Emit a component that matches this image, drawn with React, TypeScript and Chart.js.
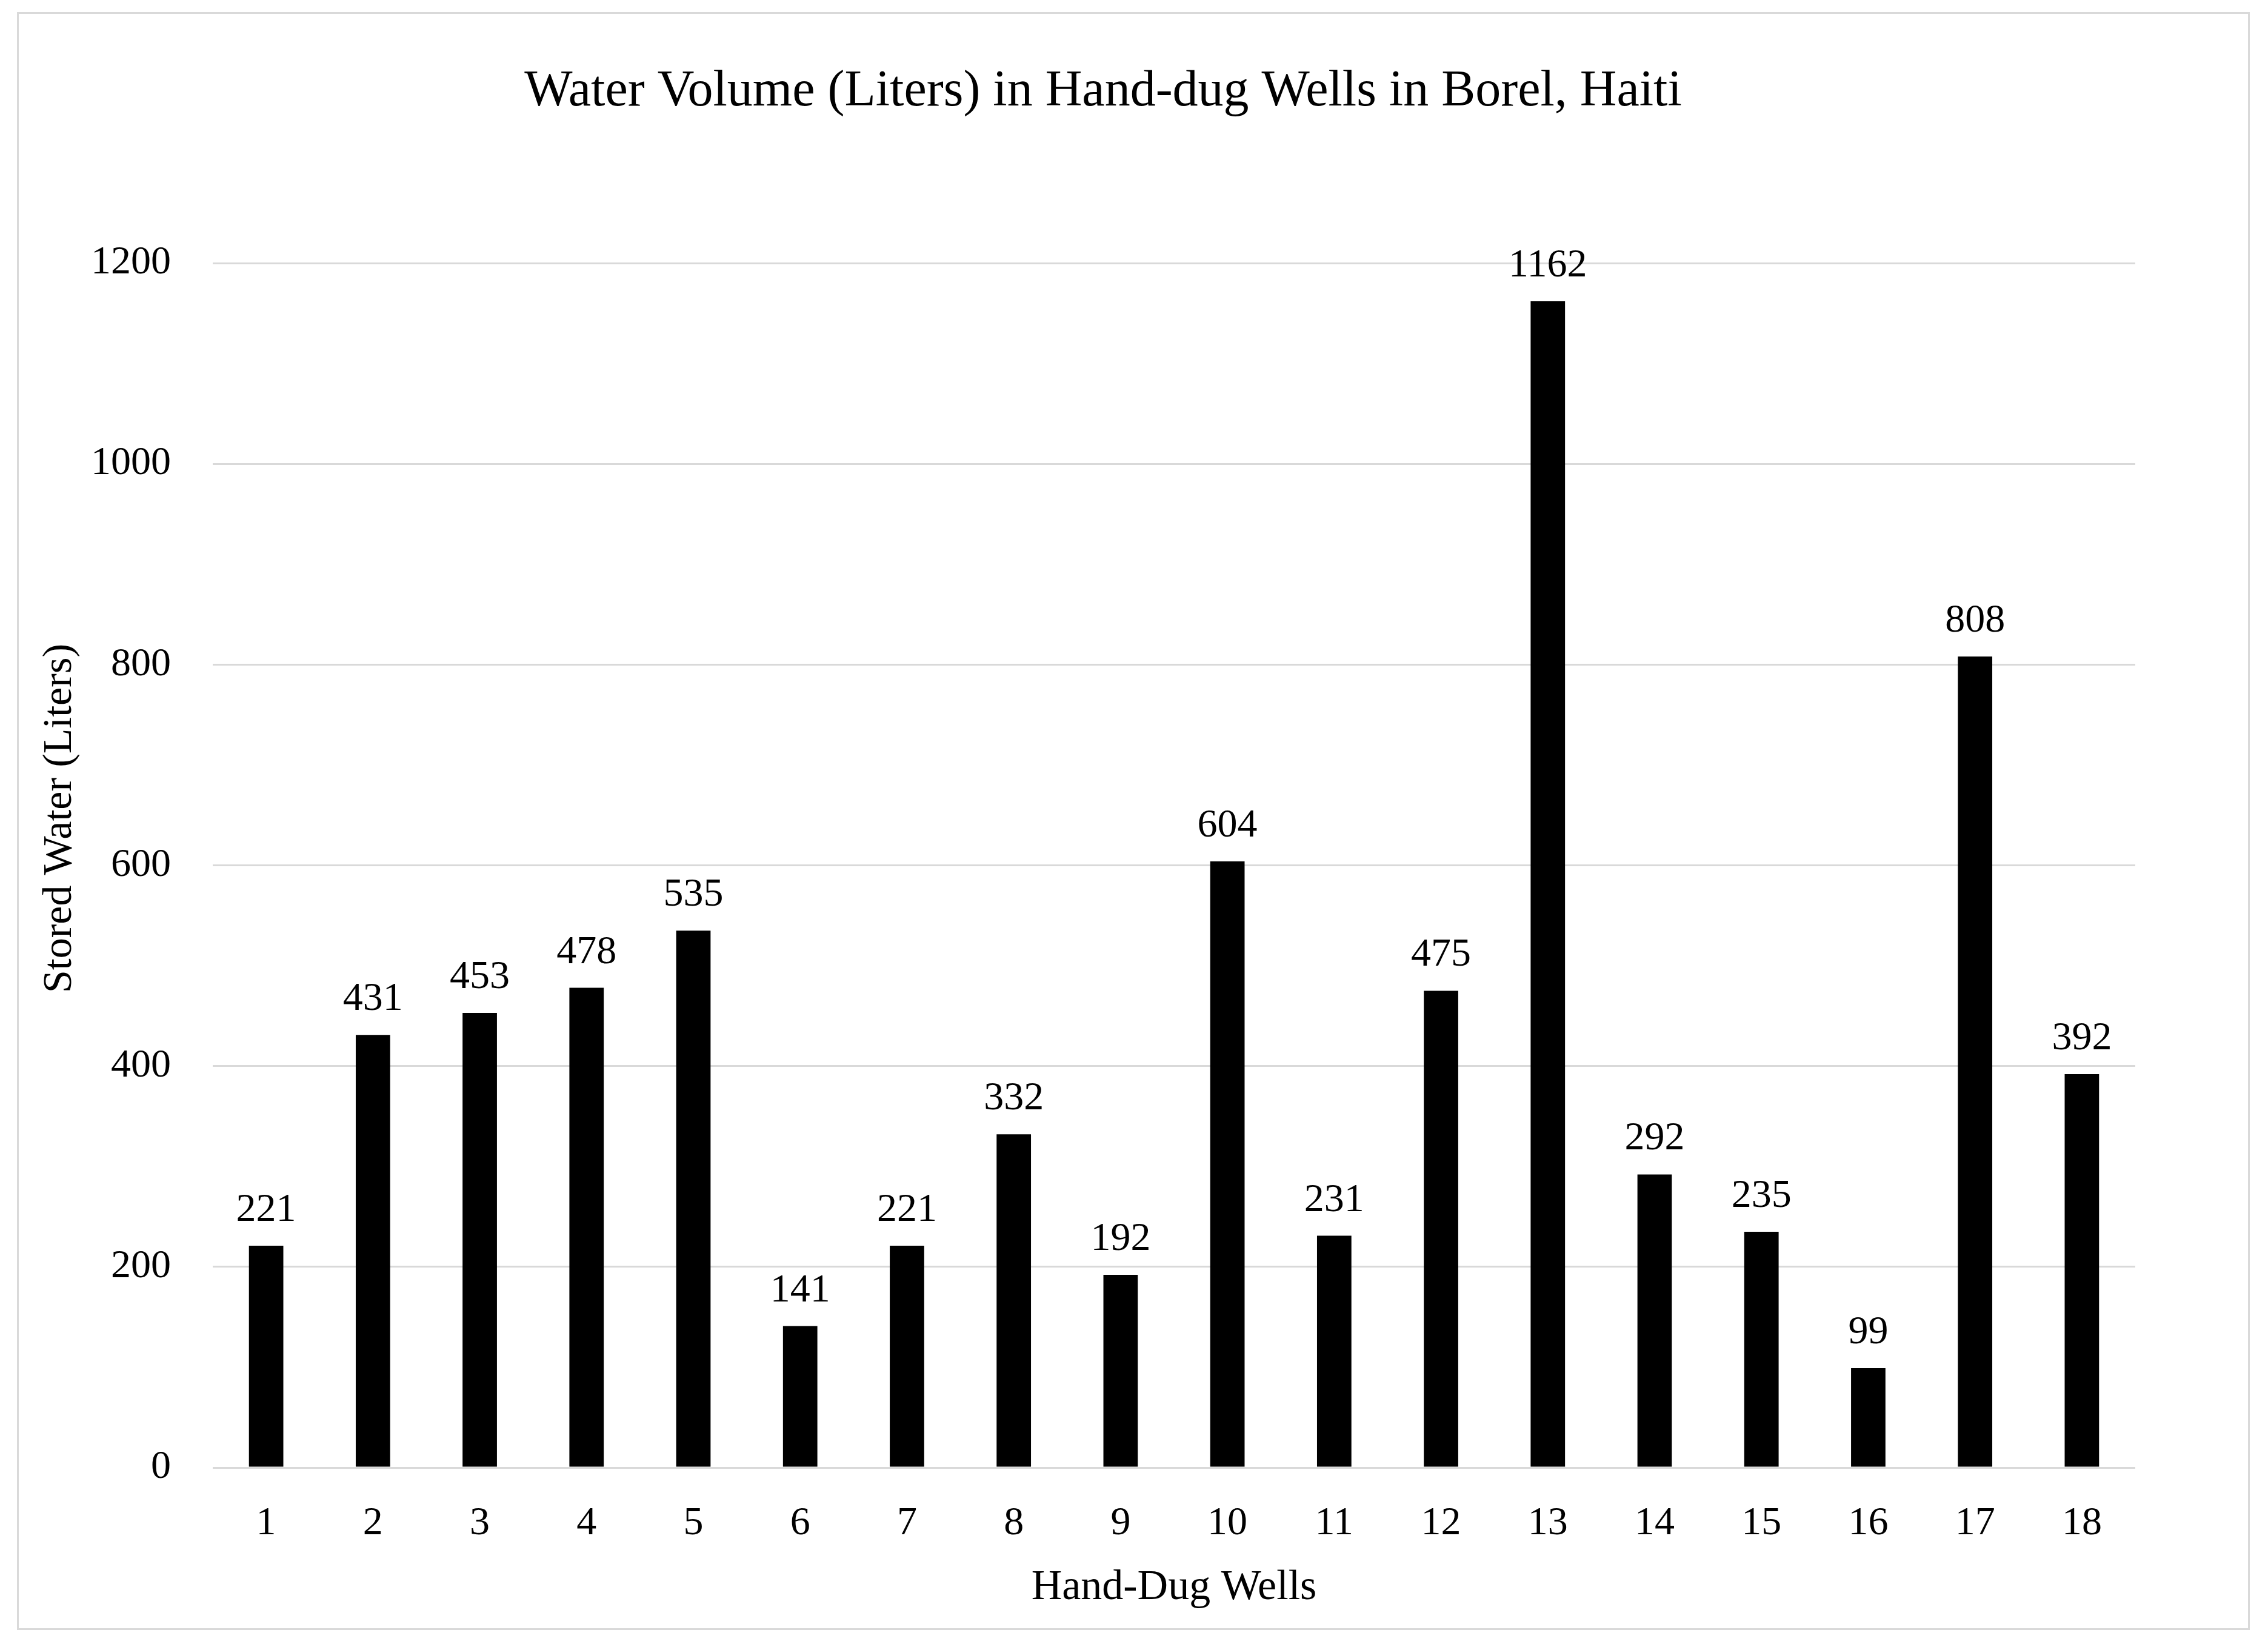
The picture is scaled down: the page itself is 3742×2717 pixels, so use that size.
import React, { useEffect, useRef } from 'react';
import { Chart, registerables } from 'chart.js';

Chart.register(...registerables);

const CHART_TITLE = 'Water Volume (Liters) in Hand-dug Wells in Borel, Haiti';
const X_TITLE = 'Hand-Dug Wells';
const Y_TITLE = 'Stored Water (Liters)';

const wells = ['1', '2', '3', '4', '5', '6', '7', '8', '9', '10', '11', '12', '13', '14', '15', '16', '17', '18'];
const storedWater = [221, 431, 453, 478, 535, 141, 221, 332, 192, 604, 231, 475, 1162, 292, 235, 99, 808, 392];
const yTickValues = [0, 200, 400, 600, 800, 1000, 1200];

const W = 3742;
const H = 2717;
const FONT = '"Liberation Serif", "Times New Roman", serif';

const overlayPlugin = {
  id: 'overlay',
  beforeDraw(chart: any) {
    const ctx = chart.ctx;
    ctx.save();
    ctx.fillStyle = '#ffffff';
    ctx.fillRect(0, 0, chart.width, chart.height);
    ctx.strokeStyle = '#d9d9d9';
    ctx.lineWidth = 3;
    ctx.strokeRect(29.5, 21.5, 3681, 2666);
    ctx.restore();
  },
  afterDatasetsDraw(chart: any) {
    const ctx = chart.ctx;
    const meta = chart.getDatasetMeta(0);
    const data = chart.data.datasets[0].data;
    ctx.save();
    ctx.fillStyle = '#000000';
    ctx.font = `66px ${FONT}`;
    ctx.textAlign = 'center';
    ctx.textBaseline = 'alphabetic';
    meta.data.forEach((bar: any, i: number) => {
      ctx.fillText(String(data[i]), bar.x, bar.y - 41);
    });
    ctx.restore();
  },
  afterDraw(chart: any) {
    const ctx = chart.ctx;
    ctx.save();
    ctx.fillStyle = '#000000';
    // chart title
    ctx.font = `84px ${FONT}`;
    ctx.textAlign = 'center';
    ctx.textBaseline = 'alphabetic';
    ctx.fillText(CHART_TITLE, 1820, 174);
    // y axis title
    ctx.font = `68px ${FONT}`;
    ctx.translate(117, 1350);
    ctx.rotate(-Math.PI / 2);
    ctx.textAlign = 'center';
    ctx.textBaseline = 'alphabetic';
    ctx.fillText(Y_TITLE, 0, 0);
    ctx.restore();
  },
};

export default function App() {
  const canvasRef = useRef<HTMLCanvasElement | null>(null);

  useEffect(() => {
    if (!canvasRef.current) return;
    const chart = new Chart(canvasRef.current, {
      type: 'bar',
      data: {
        labels: wells,
        datasets: [
          {
            label: 'Stored Water (Liters)',
            data: storedWater,
            backgroundColor: '#000000',
            borderWidth: 0,
            categoryPercentage: 1,
            barPercentage: 0.322,
          },
        ],
      },
      options: {
        responsive: false,
        animation: false,
        devicePixelRatio: 1,
        layout: {
          padding: { top: 434, right: 219, bottom: 0, left: 0 },
        },
        plugins: {
          legend: { display: false },
          title: { display: false },
          tooltip: { enabled: false },
        },
        scales: {
          x: {
            grid: { display: false, drawTicks: false },
            border: { display: false },
            ticks: {
              color: '#000000',
              font: { family: FONT, size: 66 },
              padding: 53,
              maxRotation: 0,
              autoSkip: false,
            },
            title: {
              display: true,
              text: X_TITLE,
              color: '#000000',
              font: { family: FONT, size: 70 },
              padding: { top: 0, bottom: 55 },
            },
            afterFit(scale: any) {
              scale.height = 296;
            },
          },
          y: {
            min: yTickValues[0],
            max: yTickValues[yTickValues.length - 1],
            grid: { color: '#d9d9d9', lineWidth: 3, drawTicks: false },
            border: { display: false },
            ticks: {
              stepSize: 200,
              color: '#000000',
              font: { family: FONT, size: 66 },
              padding: 69,
              callback: (value: any) => String(value),
            },
            afterFit(scale: any) {
              scale.width = 351;
            },
          },
        },
      },
      plugins: [overlayPlugin],
    });
    return () => chart.destroy();
  }, []);

  return (
    <div style={{ position: 'absolute', left: 0, top: 0, width: W, height: H, overflow: 'hidden', background: '#fff' }}>
      <canvas ref={canvasRef} width={W} height={H} style={{ width: W, height: H, display: 'block' }} />
    </div>
  );
}
